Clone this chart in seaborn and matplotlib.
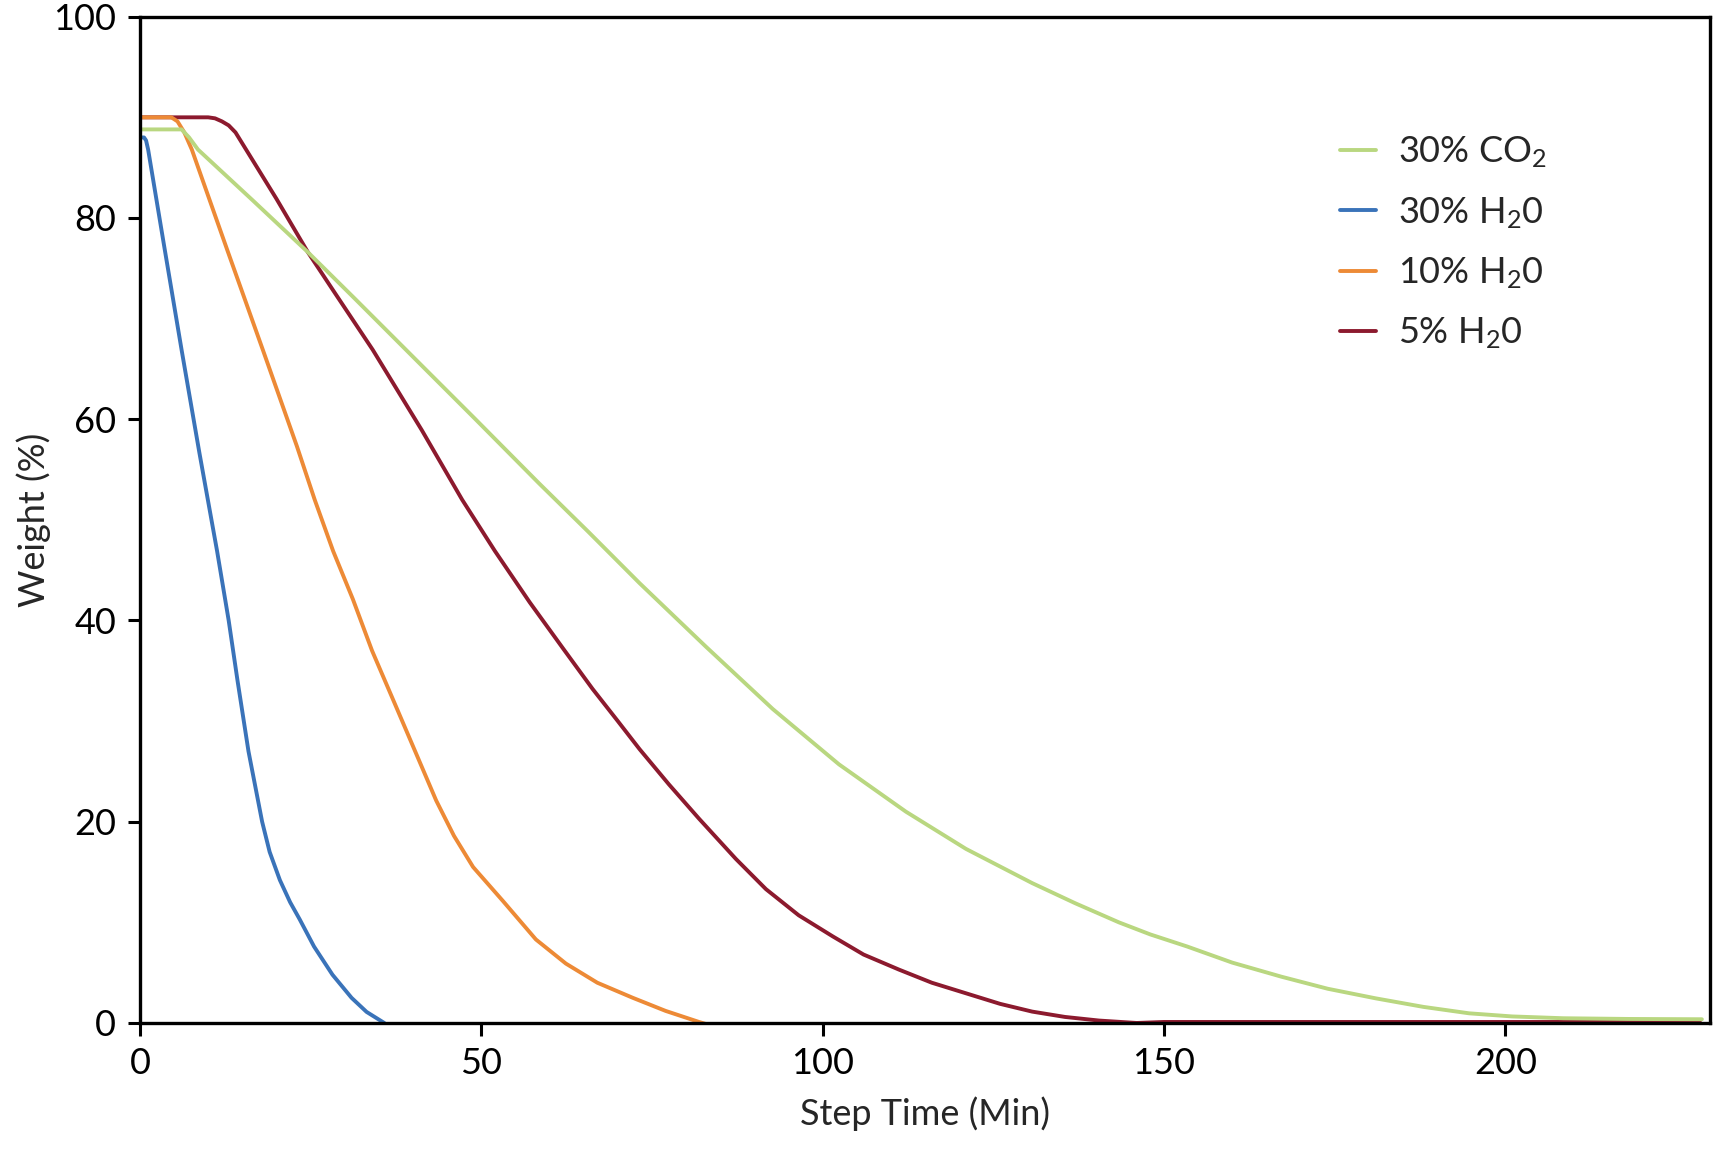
# Weight loss vs step time for four atmospheres
import numpy as np
import pandas as pd
import seaborn as sns
import matplotlib.pyplot as plt
from matplotlib.lines import Line2D

# ---- data ----
co2_30_time = [0, 6.1, 7.2, 8.5, 16.6, 24.6, 31.6, 40, 49, 58.5, 65.7, 73.2, 82.9, 92.7,
               102.4, 112.2, 121, 130.7, 137, 143.4, 148, 153.4, 160, 167.2, 174, 181,
               188, 194.7, 201, 208.5, 218, 228.8]
co2_30_weight = [88.8, 88.8, 88.0, 86.8, 81.7, 76.6, 71.9, 66.2, 60.1, 53.6, 48.8, 43.7,
                 37.4, 31.2, 25.7, 21.0, 17.3, 13.9, 11.9, 10.0, 8.8, 7.6, 6.0, 4.6, 3.4,
                 2.45, 1.6, 0.96, 0.65, 0.47, 0.4, 0.37]

h2o_30_time = [0, 0.6, 0.9, 1.2, 3.6, 6.1, 8.7, 11.3, 13, 14.3, 15.9, 17.9, 19, 20.5, 22,
               23.4, 25.5, 28.2, 31, 33.2, 35.8]
h2o_30_weight = [88, 88, 87.7, 86.8, 77, 66.9, 56.7, 46.9, 40, 34, 27, 20, 17, 14.2, 12,
                 10.3, 7.6, 4.8, 2.5, 1.1, 0]

h2o_10_time = [0, 4.6, 5.5, 6.5, 7.6, 12.8, 18, 23, 25.6, 28.3, 31.2, 34, 37.1, 40, 43.4,
               46, 48.8, 53.2, 58, 62.4, 67, 72.2, 77, 81.9, 84.9]
h2o_10_weight = [90, 90, 89.6, 88.5, 86.8, 76.8, 66.9, 57.3, 52, 46.9, 42.1, 37, 32.1,
                 27.5, 22.1, 18.6, 15.5, 12.1, 8.3, 5.9, 4.0, 2.5, 1.2, 0.1, -0.5]

h2o_5_time = [0, 10, 11, 12, 13, 14, 15, 16, 20, 24.6, 28.6, 34.1, 41.3, 47.2, 52, 57.1,
              62, 66.3, 70, 73.2, 77.5, 81.9, 87.3, 91.7, 96.5, 101.5, 106, 111.2, 116,
              121, 126, 130.7, 135.5, 140.5, 146, 150, 228.5]
h2o_5_weight = [90, 90, 89.9, 89.6, 89.2, 88.5, 87.4, 86.3, 81.9, 76.6, 72.5, 66.9, 58.9,
                52.0, 46.9, 41.8, 37.2, 33.2, 30.0, 27.2, 23.7, 20.3, 16.3, 13.3, 10.7,
                8.6, 6.8, 5.3, 4.0, 2.95, 1.9, 1.13, 0.6, 0.24, 0, 0.1, 0.1]

series = ['30% CO$_2$', '30% H$_2$0', '10% H$_2$0', '5% H$_2$0']
colors = ['#b9d780', '#3a73b9', '#ed8a36', '#8c1a2e']

frames = []
for name, t, w in zip(series,
                      [co2_30_time, h2o_30_time, h2o_10_time, h2o_5_time],
                      [co2_30_weight, h2o_30_weight, h2o_10_weight, h2o_5_weight]):
    frames.append(pd.DataFrame({'time': t, 'weight': w, 'gas': name}))
df = pd.concat(frames, ignore_index=True)

sns.set_style('white')
plt.rcParams['font.family'] = ['Lato', 'DejaVu Sans']
plt.rcParams['mathtext.default'] = 'regular'

fig = plt.figure(figsize=(17.34, 11.52), dpi=100)
ax = fig.add_axes([0.0807, 0.112, 0.9055, 0.8735])

sns.lineplot(data=df, x='time', y='weight', hue='gas', hue_order=series[::-1],
             palette=dict(zip(series, colors)), linewidth=2.8, sort=False,
             estimator=None, legend=False, ax=ax)

ax.set_xlim(0, 230)
ax.set_ylim(0, 100)
ax.set_xticks([0, 50, 100, 150, 200])
ax.set_yticks([0, 20, 40, 60, 80, 100])
ax.tick_params(axis='both', direction='out', length=9, width=2.2, labelsize=26,
               pad=8, colors='black', left=True, bottom=True)
for s in ax.spines.values():
    s.set_visible(True)
    s.set_color('black')
    s.set_linewidth(2.4)

ax.set_xlabel('Step Time (Min)', fontsize=26, labelpad=12)
ax.set_ylabel('Weight (%)', fontsize=26, labelpad=2)

handles = [Line2D([], [], color=c, linewidth=2.8) for c in colors]
ax.legend(handles, series, loc='upper left', bbox_to_anchor=(0.755, 0.897),
          frameon=False, fontsize=26, handlelength=1.0, handletextpad=0.6,
          labelspacing=0.68, borderaxespad=0)

fig.savefig('out.png', dpi=100)
